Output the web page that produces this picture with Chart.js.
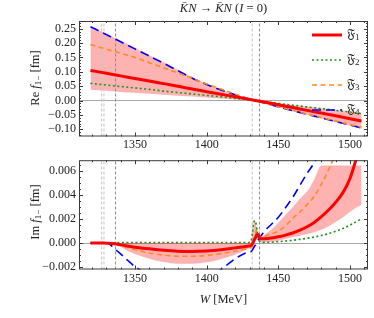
<!DOCTYPE html>
<html>
<head>
<meta charset="utf-8">
<script src="https://cdn.jsdelivr.net/npm/chart.js@4.4.0/dist/chart.umd.min.js"></script>
<style>
html,body{margin:0;padding:0;background:#fff;}
#wrap{position:relative;width:374px;height:318px;overflow:hidden;font-family:"Liberation Serif","DejaVu Serif",serif;color:#222;}
canvas{position:absolute;left:0;}
#c1{top:0;}
#c2{top:150px;}
.t{position:absolute;white-space:nowrap;font-size:12.5px;line-height:1;}
#title{left:223.5px;top:2px;transform:translateX(-50%);}
.yl{transform:translate(-50%,-50%) rotate(-90deg);}
#yl1{left:35px;top:78px;}
#yl2{left:35px;top:212px;}
#xl{left:223.5px;top:293px;transform:translateX(-50%);}
sub{font-size:0.72em;vertical-align:-0.3em;line-height:0;}
</style>
</head>
<body>
<div id="wrap">
  <canvas id="c1" width="374" height="152"></canvas>
  <canvas id="c2" width="374" height="168"></canvas>
  <div class="t" id="title"><i>K&#772;N</i> &rarr; <i>K&#772;N</i> (<i>I</i> = 0)</div>
  <div class="t yl" id="yl1">Re <i>f</i><sub>1&minus;</sub> [fm]</div>
  <div class="t yl" id="yl2">Im <i>f</i><sub>1&minus;</sub> [fm]</div>
  <div class="t" id="xl"><i>W</i> [MeV]</div>
</div>
<script>
// ---------------- data ----------------
const LABELS = ['𝔉1', '𝔉2', '𝔉3', '𝔉4'];
const W_TICKS = [1350, 1400, 1450, 1500];
const RE_TICKS = [-0.10, -0.05, 0, 0.05, 0.10, 0.15, 0.20, 0.25];
const IM_TICKS = [-0.002, 0, 0.002, 0.004, 0.006];
const THRESHOLDS = [1326.8, 1328.4, 1336.5, 1431.8, 1436.9];

// Re f1- (top panel)
const W_RE  = [1319, 1330, 1340, 1350, 1360, 1370, 1380, 1390, 1400, 1410, 1420, 1428, 1434, 1440, 1450, 1460, 1470, 1480, 1490, 1500, 1508];
const RE_F1 = [0.105, 0.095, 0.086, 0.077, 0.068, 0.059, 0.050, 0.040, 0.031, 0.022, 0.013, 0.006, 0.0005, -0.005, -0.0145, -0.024, -0.034, -0.0435, -0.053, -0.063, -0.071];
const RE_F2 = [0.060, 0.054, 0.049, 0.044, 0.039, 0.033, 0.028, 0.023, 0.018, 0.013, 0.0075, 0.0035, 0.0003, -0.0035, -0.0097, -0.016, -0.022, -0.028, -0.034, -0.040, -0.045];
const RE_F3 = [0.195, 0.179, 0.165, 0.150, 0.132, 0.114, 0.096, 0.077, 0.058, 0.040, 0.022, 0.009, 0.000, -0.008, -0.021, -0.034, -0.047, -0.059, -0.071, -0.083, -0.093];
const RE_F4 = [0.257, 0.230, 0.205, 0.180, 0.155, 0.130, 0.104, 0.078, 0.056, 0.037, 0.020, 0.008, 0.000, -0.008, -0.022, -0.035, -0.048, -0.060, -0.073, -0.085, -0.096];
const RE_HI = [0.258, 0.233, 0.208, 0.183, 0.158, 0.133, 0.107, 0.081, 0.058, 0.039, 0.021, 0.009, 0.001, -0.003, -0.009, -0.015, -0.021, -0.027, -0.033, -0.039, -0.044];
const RE_LO = [0.038, 0.034, 0.030, 0.027, 0.024, 0.020, 0.017, 0.014, 0.011, 0.007, 0.004, 0.0015, -0.0005, -0.009, -0.022, -0.036, -0.049, -0.062, -0.075, -0.088, -0.099];

// Im f1- (bottom panel)
const W_IM  = [1319, 1325, 1328, 1331, 1334, 1337, 1340, 1345, 1350, 1360, 1370, 1380, 1390, 1400, 1410, 1420, 1425, 1429, 1431, 1432, 1433, 1434, 1435, 1436, 1437, 1438, 1440, 1445, 1450, 1455, 1460, 1465, 1470, 1475, 1480, 1485, 1490, 1495, 1500, 1505, 1508];
const IM_F1 = [0, 0, 0, -0.01e-3, -0.03e-3, -0.08e-3, -0.15e-3, -0.25e-3, -0.34e-3, -0.48e-3, -0.60e-3, -0.68e-3, -0.70e-3, -0.66e-3, -0.56e-3, -0.40e-3, -0.32e-3, -0.25e-3, -0.20e-3, -0.05e-3, 0.20e-3, 0.45e-3, 0.70e-3, 0.72e-3, 0.45e-3, 0.35e-3, 0.36e-3, 0.42e-3, 0.52e-3, 0.66e-3, 0.84e-3, 1.07e-3, 1.36e-3, 1.72e-3, 2.20e-3, 2.75e-3, 3.40e-3, 4.20e-3, 5.40e-3, 7.30e-3, 8.60e-3];
const IM_F2 = [0, 0, 0, 0, 0, 0.05e-3, 0.05e-3, 0.05e-3, 0.05e-3, 0.05e-3, 0.05e-3, 0.05e-3, 0.05e-3, 0.05e-3, 0.05e-3, 0.05e-3, 0.05e-3, 0.05e-3, 0.15e-3, 0.90e-3, 1.80e-3, 1.85e-3, 1.10e-3, 0.35e-3, 0.15e-3, 0.08e-3, 0.06e-3, 0.08e-3, 0.12e-3, 0.17e-3, 0.23e-3, 0.31e-3, 0.40e-3, 0.50e-3, 0.63e-3, 0.78e-3, 0.98e-3, 1.22e-3, 1.50e-3, 1.82e-3, 2.03e-3];
const IM_F3 = [0, 0, 0, 0, 0, -0.05e-3, -0.18e-3, -0.38e-3, -0.55e-3, -0.82e-3, -1.00e-3, -1.10e-3, -1.10e-3, -1.03e-3, -0.88e-3, -0.68e-3, -0.55e-3, -0.45e-3, -0.40e-3, -0.25e-3, 0.20e-3, 0.80e-3, 1.15e-3, 1.00e-3, 0.60e-3, 0.50e-3, 0.55e-3, 0.75e-3, 1.00e-3, 1.45e-3, 2.05e-3, 2.60e-3, 3.20e-3, 3.90e-3, 4.90e-3, 6.10e-3, 7.50e-3, 9.00e-3, 10.5e-3, 12.0e-3, 13.0e-3];
const IM_F4 = [0, 0, 0, -0.02e-3, -0.25e-3, -0.60e-3, -0.90e-3, -1.45e-3, -1.95e-3, -2.70e-3, -3.20e-3, -3.50e-3, -3.40e-3, -3.00e-3, -2.20e-3, -1.30e-3, -0.95e-3, -0.75e-3, -0.70e-3, -0.55e-3, -0.35e-3, -0.15e-3, 0.05e-3, 0.25e-3, 0.45e-3, 0.62e-3, 0.95e-3, 1.55e-3, 2.15e-3, 2.95e-3, 3.80e-3, 4.80e-3, 5.80e-3, 6.70e-3, 8.00e-3, 9.50e-3, 11.0e-3, 12.5e-3, 14.0e-3, 15.5e-3, 16.5e-3];
const IM_HI = [0, 0, 0, 0, 0, 0, 0, 0, 0, 0, 0, 0, 0, 0, 0, 0, 0, 0, 0, 0.85e-3, 1.75e-3, 1.80e-3, 1.10e-3, 0.60e-3, 0.50e-3, 0.50e-3, 0.65e-3, 1.10e-3, 1.70e-3, 2.35e-3, 3.00e-3, 3.70e-3, 4.30e-3, 5.30e-3, 6.45e-3, 6.45e-3, 6.45e-3, 6.45e-3, 6.45e-3, 6.45e-3, 6.45e-3];
const IM_LO = [0, 0, 0, 0, 0, -0.10e-3, -0.30e-3, -0.65e-3, -0.90e-3, -1.30e-3, -1.58e-3, -1.72e-3, -1.72e-3, -1.60e-3, -1.35e-3, -0.95e-3, -0.70e-3, -0.45e-3, -0.30e-3, -0.20e-3, 0, 0.20e-3, 0.30e-3, 0.20e-3, 0.10e-3, 0.05e-3, 0.05e-3, 0.10e-3, 0.20e-3, 0.35e-3, 0.50e-3, 0.62e-3, 0.75e-3, 0.90e-3, 1.10e-3, 1.40e-3, 1.75e-3, 2.15e-3, 2.60e-3, 3.00e-3, 3.20e-3];

// ---------------- styles ----------------
const X_MIN = 1311, X_MAX = 1512.5;
const RE_MIN = -0.125, RE_MAX = 0.277;
const IM_MIN = -0.0022, IM_MAX = 0.0069;
const SERIES_STYLE = [
  {color: '#ff0000', width: 3,   dash: []},
  {color: '#1a961a', width: 1.6, dash: [2, 2.5]},
  {color: '#ff8a1f', width: 1.6, dash: [5, 3.5]},
  {color: '#0000ff', width: 1.6, dash: [9, 5]}
];
const BAND_COLOR = 'rgba(255,0,0,0.3)';
const THRESH_COLORS = ['#c4c4c4', '#c4c4c4', '#8a8a8a', '#c4c4c4', '#8a8a8a'];
const FONT = '"Liberation Serif","DejaVu Serif",serif';

function pts(xs, ys) { return xs.map((x, i) => ({x: x, y: ys[i]})); }

function buildDatasets(xs, series, lo, hi, yMin, yMax) {
  const ds = [];
  series.forEach((s, i) => {
    ds.push({
      label: LABELS[i], data: pts(xs, s),
      borderColor: SERIES_STYLE[i].color, borderWidth: SERIES_STYLE[i].width,
      borderDash: SERIES_STYLE[i].dash, pointRadius: 0, fill: false,
      cubicInterpolationMode: 'monotone', clip: 0, isSeries: true
    });
  });
  THRESHOLDS.forEach((t, i) => {
    ds.push({
      label: 'thr' + i, data: [{x: t, y: yMin}, {x: t, y: yMax}],
      borderColor: THRESH_COLORS[i], borderWidth: 1, borderDash: [3, 2],
      pointRadius: 0, fill: false, tension: 0, clip: 0
    });
  });
  ds.push({label: 'bandLo', data: pts(xs, lo), borderWidth: 0, borderColor: 'rgba(0,0,0,0)',
           pointRadius: 0, fill: false, cubicInterpolationMode: 'monotone', clip: 0});
  ds.push({label: 'bandHi', data: pts(xs, hi), borderWidth: 0, borderColor: 'rgba(0,0,0,0)',
           backgroundColor: BAND_COLOR, pointRadius: 0, fill: '-1',
           cubicInterpolationMode: 'monotone', clip: 0});
  return ds;
}

function fmt(v, d) {
  const s = Math.abs(v).toFixed(d);
  return (v < -1e-12 ? '\u2212' : '') + s;
}

function range(a, b, step) { const r = []; for (let v = a; v <= b + step * 1e-6; v += step) r.push(+v.toFixed(6)); return r; }

const framePlugin = {
  id: 'frameTicks',
  afterDatasetsDraw(chart, args, opts) {
    const {ctx, chartArea: a} = chart;
    const x = chart.scales.x, y = chart.scales.y;
    ctx.save();
    ctx.strokeStyle = '#3a3a3a';
    ctx.lineWidth = 1;
    ctx.strokeRect(a.left + 0.5, a.top + 0.5, a.right - a.left - 1, a.bottom - a.top - 1);
    ctx.beginPath();
    const xt = (v, len) => {
      const p = Math.round(x.getPixelForValue(v)) + 0.5;
      if (p < a.left || p > a.right) return;
      ctx.moveTo(p, a.bottom); ctx.lineTo(p, a.bottom - len);
      ctx.moveTo(p, a.top); ctx.lineTo(p, a.top + len);
    };
    const yt = (v, len) => {
      const p = Math.round(y.getPixelForValue(v)) + 0.5;
      if (p < a.top || p > a.bottom) return;
      ctx.moveTo(a.left, p); ctx.lineTo(a.left + len, p);
      ctx.moveTo(a.right, p); ctx.lineTo(a.right - len, p);
    };
    range(1320, 1510, 10).forEach(v => xt(v, W_TICKS.includes(v) ? 4 : 2));
    opts.yMinor.forEach(v => yt(v, 2));
    opts.yMajor.forEach(v => yt(v, 4));
    ctx.stroke();
    ctx.restore();
  }
};

const legendPlugin = {
  id: 'innerLegend',
  afterDraw(chart, args, opts) {
    if (!opts.show) return;
    const ctx = chart.ctx;
    ctx.save();
    LABELS.forEach((lab, i) => {
      const yy = 35 + 25 * i;
      const st = SERIES_STYLE[i];
      ctx.beginPath();
      ctx.strokeStyle = st.color; ctx.lineWidth = st.width; ctx.setLineDash(st.dash);
      ctx.moveTo(312, yy); ctx.lineTo(342, yy); ctx.stroke();
      ctx.setLineDash([]);
      ctx.fillStyle = '#222';
      ctx.textBaseline = 'middle'; ctx.textAlign = 'left';
      const main = lab.slice(0, -1), sub = lab.slice(-1);
      ctx.font = '13px ' + FONT;
      ctx.fillText(main, 347, yy);
      const w = ctx.measureText(main).width;
      ctx.font = '9px ' + FONT;
      ctx.fillText(sub, 347 + w, yy + 3);
    });
    ctx.restore();
  }
};

function makeChart(id, xs, series, lo, hi, yMin, yMax, yTicks, dec, padTop, xAxisH, xPad, yMinor, showLegend) {
  return new Chart(document.getElementById(id), {
    type: 'line',
    data: {datasets: buildDatasets(xs, series, lo, hi, yMin, yMax)},
    options: {
      responsive: false, animation: false, devicePixelRatio: 1,
      layout: {padding: {left: 0, right: 6, top: padTop, bottom: 0}},
      plugins: {legend: {display: false}, tooltip: {enabled: false},
                frameTicks: {yMajor: yTicks, yMinor: yMinor},
                innerLegend: {show: showLegend}},
      scales: {
        x: {
          type: 'linear', min: X_MIN, max: X_MAX,
          afterBuildTicks: s => { s.ticks = W_TICKS.map(v => ({value: v})); },
          afterFit: s => { s.height = xAxisH; },
          grid: {display: false, drawTicks: false},
          border: {display: false},
          ticks: {autoSkip: false, maxRotation: 0, padding: xPad, color: '#222',
                  font: {family: FONT, size: 12}, callback: v => String(v)}
        },
        y: {
          type: 'linear', min: yMin, max: yMax,
          afterBuildTicks: s => { s.ticks = yTicks.map(v => ({value: v})); },
          afterFit: s => { s.width = 79; },
          grid: {drawTicks: false, lineWidth: 1,
                 color: c => (c.tick && Math.abs(c.tick.value) < 1e-12) ? '#a8a8a8' : 'rgba(0,0,0,0)'},
          border: {display: false},
          ticks: {autoSkip: false, padding: 3, color: '#222',
                  font: {family: FONT, size: 12}, callback: v => fmt(v, dec)}
        }
      }
    },
    plugins: [framePlugin, legendPlugin]
  });
}

makeChart('c1', W_RE, [RE_F1, RE_F2, RE_F3, RE_F4], RE_LO, RE_HI, RE_MIN, RE_MAX, RE_TICKS, 2,
          21, 15.5, 1, range(-0.12, 0.27, 0.01), true);
makeChart('c2', W_IM, [IM_F1, IM_F2, IM_F3, IM_F4], IM_LO, IM_HI, IM_MIN, IM_MAX, IM_TICKS, 3,
          5, 48.5, 2, range(-0.002, 0.0065, 0.0005), false);
</script>
</body>
</html>
